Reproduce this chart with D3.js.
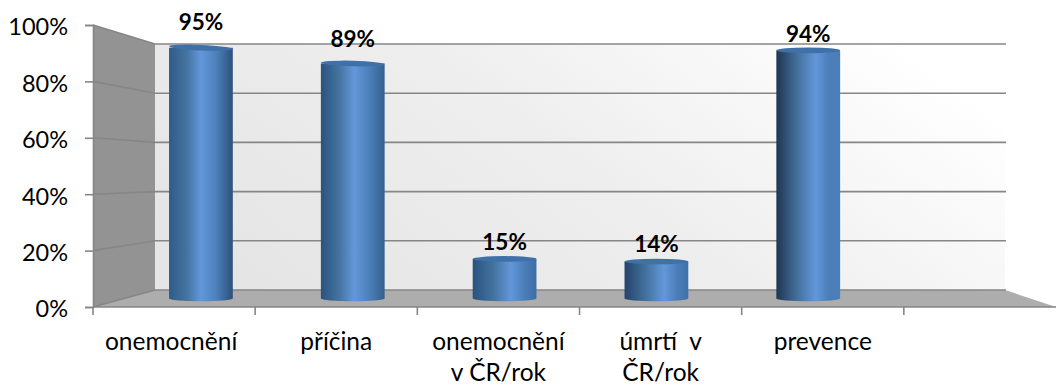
<!DOCTYPE html>
<html lang="cs">
<head>
<meta charset="utf-8">
<script src="https://cdn.jsdelivr.net/npm/d3@7"></script>
<style>
  html, body { margin: 0; padding: 0; background: #fff; }
  svg { display: block; }
  text { font-family: Lato, "Open Sans", sans-serif; fill: #000; }
</style>
</head>
<body>
<svg id="chart" width="1056" height="385"></svg>
<script>
// Chart data
const categories = ["onemocnění", "příčina", "onemocnění\nv ČR/rok", "úmrtí  v\nČR/rok", "prevence", ""];
const shares = [0.95, 0.89, 0.15, 0.14, 0.94];
const shareLabels = ["95%", "89%", "15%", "14%", "94%"];
const yTicks = [0, 0.2, 0.4, 0.6, 0.8, 1];

// Value-label clearance above each cylinder, cap tilt and per-cylinder lighting
const labelLift = [18, 17, 9, 10, 8];
const capTilt = [2.5, 1.5, 0, 0, 0];
const categoryNudge = [-3, 0, 0, 0, 0, 0];
const edgeShades = [
  { left: "#2f5b8c", peak: 0.50, right: "#2c5079" },
  { left: "#2b5280", peak: 0.52, right: "#33608f" },
  { left: "#2b527f", peak: 0.60, right: "#3d6da6" },
  { left: "#24436a", peak: 0.62, right: "#3f70aa" },
  { left: "#1f3552", peak: 0.62, right: "#4a7eb9" }
];

const svg = d3.select("#chart");
const defs = svg.append("defs");

// Oblique 3D frame: front plane, back wall, and the plane the cylinders stand on
const frontX = 93, backX = 155, backRight = 1005, frontRight = 1056;
const yFront = d3.scaleLinear().domain([0, 1]).range([307, 25]);
const yBack = d3.scaleLinear().domain([0, 1]).range([290, 44]);
const yBar = d3.scaleLinear().domain([0, 1]).range([298.5, 34.5]);
const xTicks = d3.scaleBand().domain(categories).range([93, 1066]);
const xBars = d3.scaleBand().domain(categories).range([125, 1036]).paddingInner(0.58).paddingOuter(0.29);

const wallGrad = defs.append("linearGradient").attr("id", "wall")
  .attr("x1", 0).attr("y1", 0.7).attr("x2", 1).attr("y2", 0.3);
wallGrad.append("stop").attr("offset", 0).attr("stop-color", "#e5e5e5");
wallGrad.append("stop").attr("offset", 0.5).attr("stop-color", "#eeeeee");
wallGrad.append("stop").attr("offset", 1).attr("stop-color", "#ffffff");

const polygon = pts => "M" + pts.map(p => p.join(",")).join("L") + "Z";

svg.append("path").attr("fill", "url(#wall)")
  .attr("d", polygon([[backX, yBack(1)], [backRight, yBack(1)], [backRight, yBack(0)], [backX, yBack(0)]]));
svg.append("path").attr("fill", "#939393")
  .attr("d", polygon([[frontX, yFront(1)], [backX, yBack(1)], [backX, yBack(0)], [frontX, yFront(0)]]));
svg.append("path").attr("fill", "#adadad")
  .attr("d", polygon([[frontX, yFront(0)], [backX, yBack(0)], [backRight, yBack(0)], [frontRight, yFront(0)]]));

// Gridlines run along the side wall and across the back wall
const gridColor = "#868686";
svg.append("g").selectAll("path").data(yTicks).join("path")
  .attr("fill", "none")
  .attr("stroke", gridColor)
  .attr("stroke-width", 1.6)
  .attr("d", d => `M${frontX},${yFront(d)}L${backX},${yBack(d)}L${backRight + 1},${yBack(d)}`);

// Axes on the front plane
const yAxis = svg.append("g").attr("transform", `translate(${frontX},0)`)
  .call(d3.axisLeft(yFront).tickValues(yTicks).tickSize(8).tickPadding(17).tickFormat(d3.format(".0%")));
const xAxis = svg.append("g").attr("transform", `translate(0,${yFront(0)})`)
  .call(d3.axisBottom(xTicks).tickSize(0).tickFormat(""));
xAxis.selectAll(".tick").remove();
xAxis.selectAll(".tick-mark").data(categories).join("line")
  .attr("x1", d => xTicks(d)).attr("x2", d => xTicks(d))
  .attr("y1", 0).attr("y2", 8);
xAxis.selectAll(".domain").attr("d", `M${frontX},0H${frontRight}`);
[yAxis, xAxis].forEach(a => {
  a.selectAll("line, .domain").attr("stroke", gridColor).attr("stroke-width", 1.6);
});
yAxis.selectAll("text").attr("font-size", 23.5).attr("dy", "0.42em");

// Category labels, wrapped at line breaks, centred under each tick interval
const catLabels = svg.append("g").selectAll("text").data(categories).join("text")
  .attr("text-anchor", "middle")
  .attr("font-size", 24.5)
  .attr("transform", (d, i) => `translate(${xTicks(d) + xTicks.bandwidth() / 2 + categoryNudge[i]},350)`);
catLabels.selectAll("tspan").data(d => d.split("\n")).join("tspan")
  .attr("x", 0)
  .attr("y", (d, i) => i * 30.5)
  .style("white-space", "pre")
  .text(d => d);

// Cylinders
const rx = xBars.bandwidth() / 2, ry = 2.8;
shares.forEach((v, i) => {
  const shade = edgeShades[i];
  const g = defs.append("linearGradient").attr("id", `cyl${i}`);
  g.append("stop").attr("offset", 0).attr("stop-color", shade.left);
  g.append("stop").attr("offset", shade.peak * 0.55).attr("stop-color", "#44739f");
  g.append("stop").attr("offset", shade.peak).attr("stop-color", "#6397da");
  g.append("stop").attr("offset", shade.peak + (1 - shade.peak) * 0.5).attr("stop-color", "#4c7fba");
  g.append("stop").attr("offset", 1).attr("stop-color", shade.right);
});

const bars = svg.append("g").selectAll("g").data(shares).join("g")
  .attr("transform", (d, i) => `translate(${xBars(categories[i]) + rx},0)`);
bars.append("path")
  .attr("fill", (d, i) => `url(#cyl${i})`)
  .attr("d", d => `M${-rx},${yBar(d)}V${yBar(0)}A${rx},${ry} 0 0 0 ${rx},${yBar(0)}V${yBar(d)}Z`);
bars.append("ellipse")
  .attr("cy", d => yBar(d))
  .attr("rx", rx).attr("ry", ry)
  .attr("transform", (d, i) => `rotate(${capTilt[i]} 0 ${yBar(d)})`)
  .attr("fill", "#3f70a8");

// Value labels
bars.append("text")
  .attr("text-anchor", "middle")
  .attr("font-size", 22.5)
  .attr("font-weight", 700)
  .attr("y", (d, i) => yBar(d) - labelLift[i])
  .text((d, i) => shareLabels[i]);
</script>
</body>
</html>
